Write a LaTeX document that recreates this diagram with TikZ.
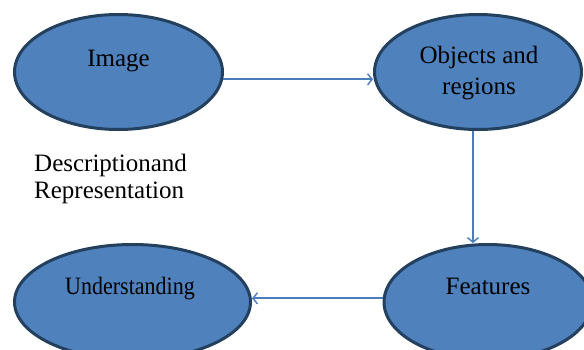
\documentclass[tikz,border=0pt]{standalone}
\usepackage{fontspec}
\setmainfont{Liberation Serif}
\usetikzlibrary{arrows.meta,calc,shapes.geometric}
\definecolor{fillblue}{HTML}{4F81BD}
\definecolor{edgeblue}{HTML}{23405F}
\definecolor{linkblue}{HTML}{4A7EBB}
\tikzset{
  oval/.style={ellipse, draw=edgeblue, fill=fillblue, line width=3pt, inner sep=0pt, minimum height=115pt},
  lbl/.style={font=\fontsize{25}{31}\selectfont, text=black, align=center, inner sep=0pt},
  link/.style={draw=linkblue, line width=1.8pt, -{Straight Barb[length=4.5pt,width=11pt,line width=1.4pt]}}
}
\begin{document}
\begin{tikzpicture}[x=1pt,y=-1pt]
\useasboundingbox (0,0) rectangle (584,349);
\node[oval, minimum width=208pt] (img) at (118.5,72) {};
\node[oval, minimum width=207pt] (obj) at (478,72) {};
\node[oval, minimum width=236pt] (und) at (132.5,302) {};
\node[oval, minimum width=208pt] (feat) at (488,302) {};
\node[lbl] (imgt) at (118.5,61) {Image};
\node[lbl] (objt) at (479,73) {Objects and\\regions};
\node[lbl] (undt) at (130,289) {\scalebox{0.88}[1]{Understanding}};
\node[lbl] (featt) at (488,286) {Features};
\node[lbl, anchor=west, align=left, font=\fontsize{25}{27}\selectfont] (desc) at (34,179) {Descriptionand\\Representation};
\draw[link] (img.356.7) -- (img.356.7 -| obj.west);
\draw[link] ($(obj.south)+(-5,0)$) -- ($(feat.north)+(-15,0)$);
\draw[link] (feat.178.35) -- (feat.178.35 -| und.east);
\end{tikzpicture}
\end{document}
